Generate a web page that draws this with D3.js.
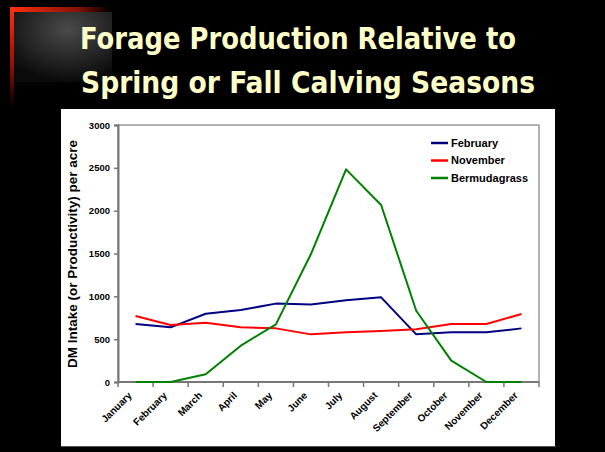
<!DOCTYPE html>
<html>
<head>
<meta charset="utf-8">
<script src="https://cdn.jsdelivr.net/npm/d3@7"></script>
<style>
  body { margin: 0; background: #000; }
  svg { display: block; }
</style>
</head>
<body>
<svg width="605" height="452"></svg>
<script>
// data
var months = ["January", "February", "March", "April", "May", "June",
              "July", "August", "September", "October", "November", "December"];
var february = [677, 638, 797, 840, 915, 906, 955, 988, 556, 580, 580, 626];
var november = [770, 665, 692, 638, 626, 556, 580, 595, 615, 677, 677, 793];
var bermuda  = [0, 0, 90, 424, 673, 1494, 2482, 2066, 832, 249, 0, 0];
var yTicks = [0, 500, 1000, 1500, 2000, 2500, 3000];
var seriesNames = ["February", "November", "Bermudagrass"];
var seriesColors = ["#000080", "#ff0000", "#008000"];

var svg = d3.select("svg");
var defs = svg.append("defs");

// slide decoration (top-left)
var gv = defs.append("linearGradient").attr("id", "redV").attr("x1", 0).attr("y1", 0).attr("x2", 0).attr("y2", 1);
gv.append("stop").attr("offset", "0%").attr("stop-color", "#ff3010");
gv.append("stop").attr("offset", "60%").attr("stop-color", "#901000");
gv.append("stop").attr("offset", "100%").attr("stop-color", "#000");
var gh = defs.append("linearGradient").attr("id", "redH").attr("x1", 0).attr("y1", 0).attr("x2", 1).attr("y2", 0);
gh.append("stop").attr("offset", "0%").attr("stop-color", "#ff3010");
gh.append("stop").attr("offset", "70%").attr("stop-color", "#801000");
gh.append("stop").attr("offset", "100%").attr("stop-color", "#000");
var gr = defs.append("radialGradient").attr("id", "greyR").attr("cx", "55%").attr("cy", "25%").attr("r", "75%");
gr.append("stop").attr("offset", "0%").attr("stop-color", "#4a4a4a");
gr.append("stop").attr("offset", "100%").attr("stop-color", "#0a0a0a");

svg.append("rect").attr("x", 14).attr("y", 12).attr("width", 98).attr("height", 70).attr("fill", "url(#greyR)");
svg.append("rect").attr("x", 10).attr("y", 7).attr("width", 4).attr("height", 100).attr("fill", "url(#redV)");
svg.append("rect").attr("x", 10).attr("y", 7).attr("width", 100).attr("height", 5).attr("fill", "url(#redH)");

// title
var titleLines = [
  { text: "Forage Production Relative to", x: 80, y: 49, w: 436 },
  { text: "Spring or Fall Calving Seasons", x: 81, y: 93, w: 454 }
];
svg.selectAll("text.title").data(titleLines).enter().append("text").attr("class", "title")
  .attr("x", function(d) { return d.x; }).attr("y", function(d) { return d.y; })
  .attr("textLength", function(d) { return d.w; }).attr("lengthAdjust", "spacingAndGlyphs")
  .attr("font-family", "DejaVu Sans, sans-serif").attr("font-stretch", "condensed")
  .attr("font-weight", "bold").attr("font-size", 31)
  .attr("fill", "#ffffc8").text(function(d) { return d.text; });

// white chart panel
svg.append("rect").attr("x", 61).attr("y", 109).attr("width", 494).attr("height", 337).attr("fill", "#fff");
svg.append("line").attr("x1", 61).attr("x2", 556).attr("y1", 446.5).attr("y2", 446.5).attr("stroke", "#555");

var plotLeft = 118, plotRight = 539, plotTop = 125, plotBottom = 382;

var x = d3.scaleBand().domain(months).range([plotLeft, plotRight]);
var y = d3.scaleLinear().domain([0, 3000]).range([plotBottom, plotTop]);

// plot border
svg.append("rect").attr("x", plotLeft).attr("y", plotTop)
  .attr("width", plotRight - plotLeft).attr("height", plotBottom - plotTop)
  .attr("fill", "none").attr("stroke", "#999").attr("stroke-width", 1.5);

// y axis
var yAxis = svg.append("g").attr("transform", "translate(" + plotLeft + ",0)")
  .call(d3.axisLeft(y).tickValues(yTicks).tickSize(4).tickPadding(4).tickFormat(d3.format("d")));
yAxis.select(".domain").attr("stroke", "#777").attr("stroke-width", 2);
yAxis.selectAll(".tick line").attr("stroke", "#777").attr("stroke-width", 1.5);
yAxis.selectAll("text").attr("font-family", "Liberation Sans, Arial, sans-serif")
  .attr("font-weight", "bold").attr("font-size", 9.5).attr("fill", "#000");

// x axis: ticks on band boundaries
var xAxis = svg.append("g").attr("transform", "translate(0," + plotBottom + ")");
xAxis.append("line").attr("x1", plotLeft).attr("x2", plotRight).attr("stroke", "#777").attr("stroke-width", 2);
xAxis.selectAll("line.tk").data(months.concat(["end"])).enter().append("line").attr("class", "tk")
  .attr("x1", function(d, i) { return i < months.length ? x(d) : plotRight; })
  .attr("x2", function(d, i) { return i < months.length ? x(d) : plotRight; })
  .attr("y1", 0).attr("y2", 5).attr("stroke", "#777").attr("stroke-width", 1.5);
xAxis.selectAll("text").data(months).enter().append("text")
  .attr("transform", function(d) { return "translate(" + (x(d) + x.bandwidth() / 2 - 3) + ",14) rotate(-45)"; })
  .attr("text-anchor", "end")
  .attr("font-family", "Liberation Sans, Arial, sans-serif").attr("font-weight", "bold").attr("font-size", 10)
  .text(function(d) { return d; });

// y label
svg.append("text").attr("transform", "translate(77,254) rotate(-90)").attr("text-anchor", "middle")
  .attr("font-family", "Liberation Sans, Arial, sans-serif").attr("font-weight", "bold").attr("font-size", 13.5)
  .text("DM Intake (or Productivity) per acre");

// lines
var line = d3.line()
  .x(function(d, i) { return x(months[i]) + x.bandwidth() / 2; })
  .y(function(d) { return y(d); });

[february, november, bermuda].forEach(function(s, i) {
  svg.append("path").datum(s).attr("d", line).attr("fill", "none")
    .attr("stroke", seriesColors[i]).attr("stroke-width", 2).attr("stroke-linejoin", "round");
});

// legend
var legend = svg.selectAll("g.leg").data(seriesNames).enter().append("g").attr("class", "leg")
  .attr("transform", function(d, i) { return "translate(431," + (143 + i * 17.5) + ")"; });
legend.append("line").attr("x1", 0).attr("x2", 17).attr("stroke", function(d, i) { return seriesColors[i]; })
  .attr("stroke-width", 2.5);
legend.append("text").attr("x", 20).attr("dy", "0.35em")
  .attr("font-family", "Liberation Sans, Arial, sans-serif").attr("font-weight", "bold").attr("font-size", 11)
  .text(function(d) { return d; });
</script>
</body>
</html>
